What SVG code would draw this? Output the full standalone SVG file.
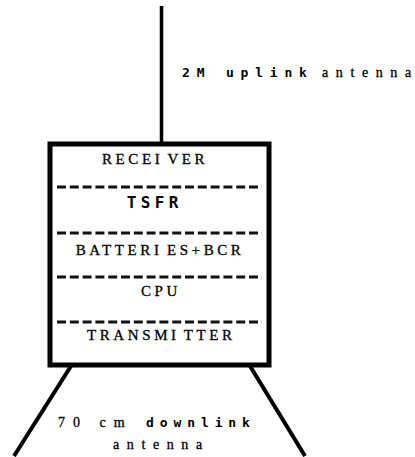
<svg xmlns="http://www.w3.org/2000/svg" width="415" height="457" viewBox="0 0 415 457">
<style>
.serif{font-family:"Liberation Serif","Times New Roman",serif;font-size:15px;letter-spacing:3.6px;fill:#000;stroke:#000;stroke-width:0.3;word-spacing:-3px}
.lbl{font-family:"Liberation Serif","Times New Roman",serif;font-size:14px;fill:#000;stroke:#000;stroke-width:0.3}
.mono{font-family:"DejaVu Sans Mono",monospace;font-weight:bold;fill:#000}
.dash{stroke:#111;stroke-width:3;stroke-dasharray:9 3.8;fill:none}
.line{stroke:#000;fill:none;stroke-linecap:butt}
</style>
<rect width="415" height="457" fill="#fff"/>
<g id="connectors">
<line class="line" x1="161.5" y1="6" x2="161.5" y2="143" stroke-width="3.5"/>
<line class="line" x1="71" y1="366" x2="14" y2="456" stroke-width="4"/>
<line class="line" x1="250" y1="366" x2="305" y2="456" stroke-width="4"/>
</g>
<g id="satellite">
<rect x="50" y="144" width="219" height="221" fill="none" stroke="#000" stroke-width="5"/>
<line class="dash" x1="57" y1="187" x2="262" y2="187"/>
<line class="dash" x1="57" y1="233" x2="262" y2="233"/>
<line class="dash" x1="57" y1="277" x2="262" y2="277"/>
<line class="dash" x1="57" y1="322" x2="262" y2="322"/>
</g>
<g id="receiver"><text class="serif" x="155.1" y="164" text-anchor="middle">RECEI VER</text></g>
<g id="tsfr"><text class="mono" x="154.7" y="208" text-anchor="middle" font-size="16" letter-spacing="4.4">TSFR</text></g>
<g id="batteries"><text class="serif" x="160.1" y="255" text-anchor="middle">BATTERI ES+BCR</text></g>
<g id="cpu"><text class="serif" x="161" y="296" text-anchor="middle">CPU</text></g>
<g id="transmitter"><text class="serif" x="161.3" y="340" text-anchor="middle">TRANSMI TTER</text></g>
<g id="uplink-label">
<text class="mono" x="182" y="77" font-size="13" letter-spacing="6.8">2M uplink</text>
<text class="lbl" x="322" y="77" letter-spacing="7.6">antenn<tspan letter-spacing="0">a</tspan></text>
</g>
<g id="downlink-label">
<text class="lbl" x="58" y="427" letter-spacing="8">70 cm</text>
<text class="mono" x="146" y="427" font-size="13" letter-spacing="5.9">downlink</text>
<text class="lbl" x="113" y="449" letter-spacing="7.6">antenn<tspan letter-spacing="0">a</tspan></text>
</g>
</svg>
